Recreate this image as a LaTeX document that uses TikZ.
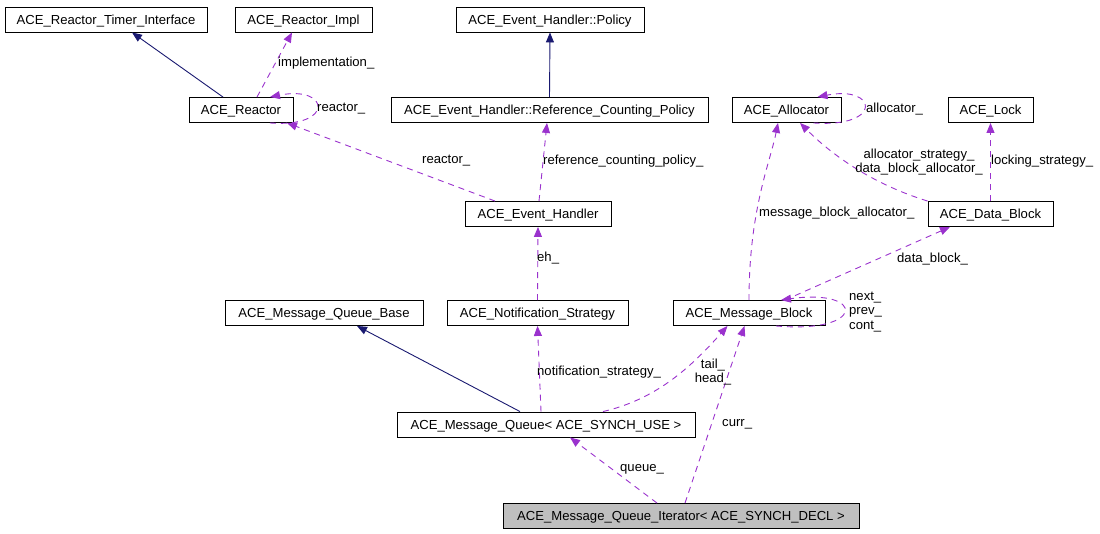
\documentclass[tikz,border=0pt]{standalone}
\usepackage{fontspec}
\setmainfont{Liberation Sans}
\usetikzlibrary{arrows.meta}
\definecolor{navy}{RGB}{25,25,112}
\definecolor{orchid}{RGB}{154,50,205}
\tikzset{
  cls/.style={draw=black,line width=0.9pt,minimum height=25pt,inner sep=0pt,text height=9.4pt,text depth=0pt,font=\fontsize{13.1}{14.5}\selectfont},
  lbl/.style={inner sep=0pt,anchor=west,font=\fontsize{13.1}{14.5}\selectfont},
  inh/.style={draw=navy,line width=0.9pt,-{Triangle[length=10pt,width=8pt]}},
  memb/.style={draw=orchid,line width=0.9pt,dash pattern=on 6pt off 5pt,-{Triangle[length=10pt,width=8pt]}}
}
\begin{document}
\begin{tikzpicture}[x=1pt,y=-1pt]
\useasboundingbox (0,0) rectangle (1100,533);
\node[cls,minimum width=202] (timer) at (106,19.5) {ACE\_Reactor\_Timer\_Interface};
\node[cls,minimum width=137] (impl) at (303.5,19.5) {ACE\_Reactor\_Impl};
\node[cls,minimum width=188] (policy) at (550,19.5) {ACE\_Event\_Handler::Policy};
\node[cls,minimum width=104] (reactor) at (241,110) {ACE\_Reactor};
\node[cls,minimum width=317] (rcp) at (549.5,110) {ACE\_Event\_Handler::Reference\_Counting\_Policy};
\node[cls,minimum width=109] (alloc) at (786.5,110) {ACE\_Allocator};
\node[cls,minimum width=85] (lock) at (990.5,110) {ACE\_Lock};
\node[cls,minimum width=146] (eh) at (538,214) {ACE\_Event\_Handler};
\node[cls,minimum width=125] (db) at (990.5,214) {ACE\_Data\_Block};
\node[cls,minimum width=198] (mqbase) at (324,313) {ACE\_Message\_Queue\_Base};
\node[cls,minimum width=181] (notif) at (537.5,313) {ACE\_Notification\_Strategy};
\node[cls,minimum width=152] (mb) at (749,313) {ACE\_Message\_Block};
\node[cls,minimum width=298] (mq) at (546,424.5) {ACE\_Message\_Queue< ACE\_SYNCH\_USE >};
\node[cls,minimum width=356,fill={rgb,255:red,191;green,191;blue,191}] (iter) at (681,516) {ACE\_Message\_Queue\_Iterator< ACE\_SYNCH\_DECL >};

\draw[inh] ([xshift=-18]reactor.north) -- ([xshift=26]timer.south);
\draw[memb] ([xshift=16]reactor.north) -- ([xshift=-11.5]impl.south);
\draw[memb] ([xshift=29]reactor.south) .. controls +(65,5) and +(60,-12) .. ([xshift=29]reactor.north);
\draw[memb] ([xshift=-43]eh.north) -- ([xshift=46]reactor.south);
\draw[memb] ([xshift=1]eh.north) -- ([xshift=-2.5]rcp.south);
\draw[inh] (rcp.north) -- (policy.south);
\draw[memb] (notif.north) -- (eh.south);
\draw[inh] ([xshift=-26]mq.north) -- ([xshift=33]mqbase.south);
\draw[memb] ([xshift=-5]mq.north) -- (notif.south);
\draw[memb] ([xshift=57]mq.north) .. controls +(52,-12) and +(-38,43) .. ([xshift=-21.5]mb.south);
\draw[memb] ([xshift=-24]iter.north) -- ([xshift=24]mq.south);
\draw[memb] ([xshift=4]iter.north) -- ([xshift=-4.5]mb.south);
\draw[memb] (mb.north) .. controls +(0,-90) and +(-8,40) .. ([xshift=-8.5]alloc.south);
\draw[memb] ([xshift=36]mb.north) -- ([xshift=-40.5]db.south);
\draw[memb] ([xshift=27]mb.south) .. controls +(90,8) and +(85,-12) .. ([xshift=32]mb.north);
\draw[memb] (db.north west) .. controls +(-68,-21) and +(20,20) .. ([xshift=13.5]alloc.south);
\draw[memb] (db.north) -- (lock.south);
\draw[memb] ([xshift=27]alloc.south) .. controls +(70,5) and +(60,-12) .. ([xshift=31]alloc.north);

\node[lbl] (limpl) at (278,63) {implementation\_};
\node[lbl] (lloop) at (317,109) {reactor\_};
\node[lbl] (lreact) at (422,161) {reactor\_};
\node[lbl] (lrcp) at (543,161) {reference\_counting\_policy\_};
\node[lbl] (lalloc) at (866,109) {allocator\_};
\node[lbl,anchor=center,align=center] (ldba) at (919,162) {allocator\_strategy\_\\data\_block\_allocator\_};
\node[lbl] (llock) at (991,161) {locking\_strategy\_};
\node[lbl] (lmba) at (759,213) {message\_block\_allocator\_};
\node[lbl] (ldb) at (897,259) {data\_block\_};
\node[lbl,align=left] (lnext) at (849,312) {next\_\\prev\_\\cont\_};
\node[lbl] (leh) at (537,258) {eh\_};
\node[lbl] (lns) at (537,372) {notification\_strategy\_};
\node[lbl,anchor=center,align=center] (lhead) at (713,372) {tail\_\\head\_};
\node[lbl] (lcurr) at (722,424) {curr\_};
\node[lbl] (lqueue) at (620,469) {queue\_};
\end{tikzpicture}
\end{document}
